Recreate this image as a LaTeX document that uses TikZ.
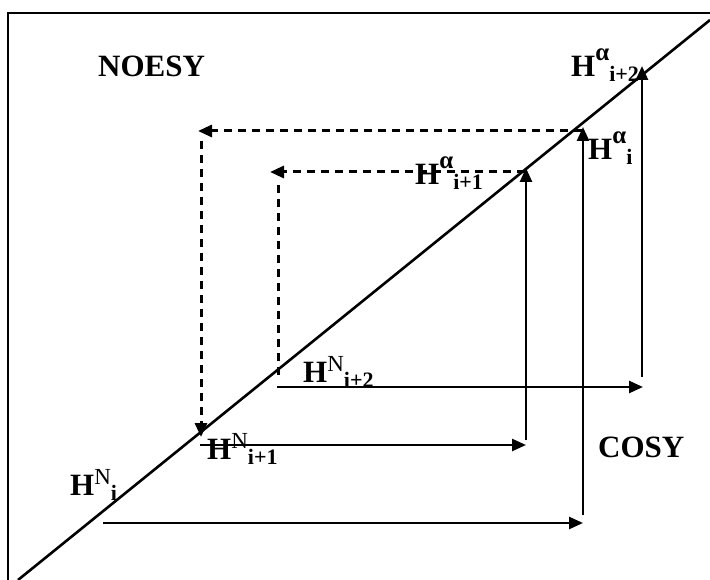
\documentclass[tikz,border=0pt]{standalone}
\usepackage{fontspec}
\setmainfont{Liberation Serif}
\usetikzlibrary{arrows.meta}
\newcommand\bigf{\fontsize{31}{31}\selectfont\bfseries}
\newcommand\smallf{\fontsize{23}{23}\selectfont\mdseries}
\newcommand\smallbf{\fontsize{22}{22}\selectfont\bfseries}
\newcommand\HNlab[1]{{\bigf H}\raisebox{11pt}{\smallf N}\raisebox{-5pt}{\smallbf #1}}
\newcommand\Halab[1]{{\bigf H}\raisebox{16pt}{\fontsize{25}{25}\selectfont\bfseries α}\raisebox{-5pt}{\smallbf #1}}
\tikzset{
  lab/.style={inner sep=0pt, anchor=base west},
  frameline/.style={line width=2.6pt},
  cosyarrow/.style={line width=2.6pt, -{Triangle[length=14pt,width=12pt]}},
  noesyarrow/.style={line width=3pt, dash pattern=on 8pt off 6pt, -{Triangle[length=14pt,width=12pt]}},
  noesyline/.style={line width=3pt, dash pattern=on 8pt off 6pt},
}
\begin{document}
\begin{tikzpicture}[x=1pt,y=-1pt]
\useasboundingbox (0,0) rectangle (710,580);
% frame
\coordinate (fbl) at (8,580);
\coordinate (ftl) at (8,13);
\coordinate (ftr) at (710,13);
\draw[frameline] (fbl) -- (ftl) -- (ftr);
% diagonal
\coordinate (d1) at (18,580);
\coordinate (d2) at (710,20);
\draw[frameline] (d1) -- (d2);
% titles
\node[lab] (noesy) at (98,77) {\bigf NOESY};
\node[lab] (cosy) at (598,457) {\bigf COSY};
% labels
\node[lab] (hni) at (70,495) {\HNlab{i}};
\node[lab] (hni1) at (207,459) {\HNlab{i+1}};
\node[lab] (hni2) at (303,382) {\HNlab{i+2}};
\node[lab] (hai1) at (415,185) {\Halab{i+1}};
\node[lab] (hai) at (588,160) {\Halab{i}};
\node[lab] (hai2) at (571,77) {\Halab{i+2}};
% COSY paths
\coordinate (a1) at (103,523);
\coordinate (a2) at (583,523);
\coordinate (a3) at (583,515);
\coordinate (a4) at (583,127);
\draw[cosyarrow] (a1) -- (a2);
\draw[cosyarrow] (a3) -- (a4);
\coordinate (b1) at (200,445);
\coordinate (b2) at (526,445);
\coordinate (b3) at (526,440);
\coordinate (b4) at (526,168);
\draw[cosyarrow] (b1) -- (b2);
\draw[cosyarrow] (b3) -- (b4);
\coordinate (c1) at (277,387);
\coordinate (c2) at (643,387);
\coordinate (c3) at (642,377);
\coordinate (c4) at (642,66);
\draw[cosyarrow] (c1) -- (c2);
\draw[cosyarrow] (c3) -- (c4);
% NOESY paths
\coordinate (n1) at (582,131);
\coordinate (n2) at (198,131);
\coordinate (n3) at (201,141);
\coordinate (n4) at (201,437);
\draw[noesyarrow] (n1) -- (n2);
\draw[noesyarrow] (n3) -- (n4);
\coordinate (m1) at (525,172);
\coordinate (m2) at (270,172);
\coordinate (m3) at (278,185);
\coordinate (m4) at (278,376);
\draw[noesyarrow] (m1) -- (m2);
\draw[noesyline] (m3) -- (m4);
\end{tikzpicture}
\end{document}
